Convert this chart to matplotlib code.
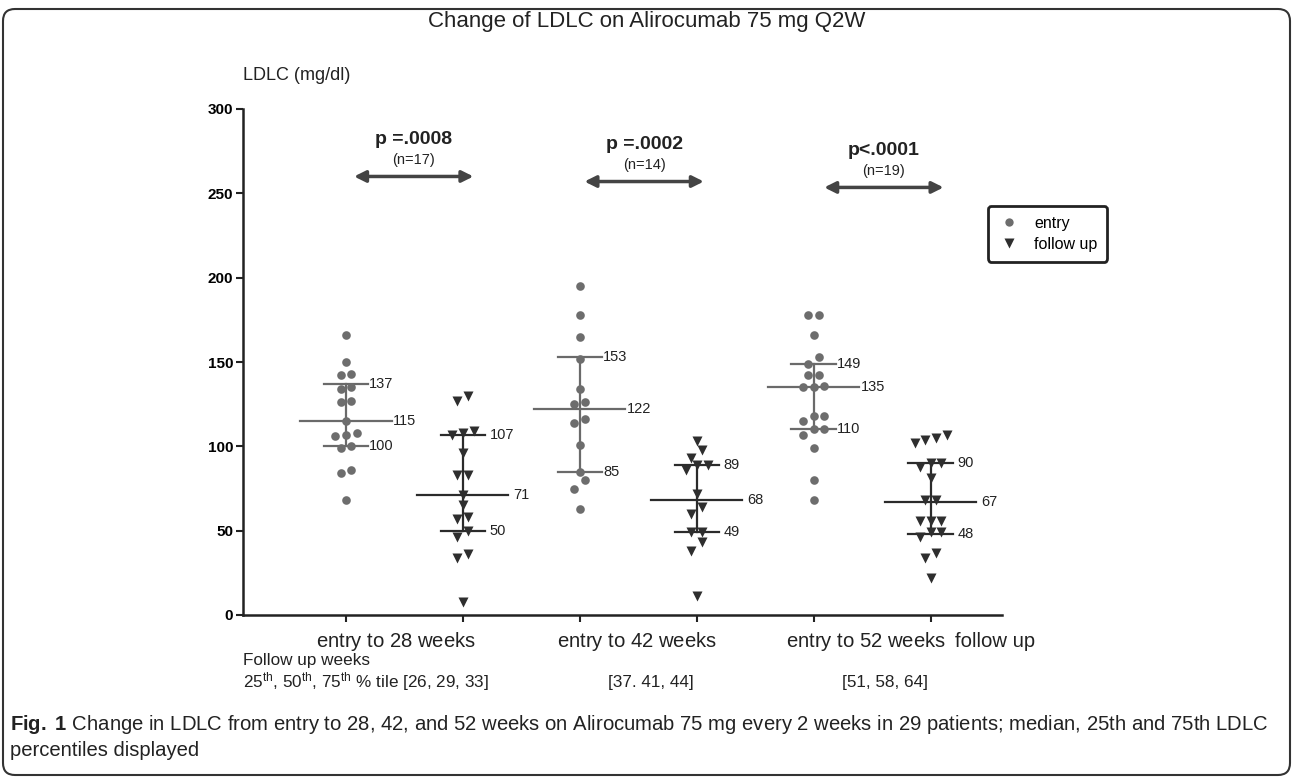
import numpy as np
import matplotlib
matplotlib.use("Agg")
import matplotlib.pyplot as plt
from matplotlib import font_manager as fm
from matplotlib.patches import FancyBboxPatch
from matplotlib.lines import Line2D

# LDLC values (mg/dl)
entry_28 = [166, 150, 142, 143, 135, 134, 126, 127, 115, 107, 108, 106, 99, 100, 86, 84, 68]
follow_28 = [130, 127, 108, 109, 107, 96, 83, 83, 71, 65, 58, 57, 50, 46, 36, 34, 8]
entry_42 = [195, 178, 165, 152, 134, 126, 125, 116, 114, 101, 85, 80, 75, 63]
follow_42 = [103, 98, 93, 89, 89, 86, 72, 64, 60, 49, 49, 43, 38, 11]
entry_52 = [178, 178, 166, 153, 149, 142, 142, 136, 135, 135, 118, 118, 115, 110, 110, 107, 99, 80, 68]
follow_52 = [107, 104, 102, 105, 90, 90, 88, 81, 68, 68, 56, 56, 56, 49, 49, 46, 37, 34, 22]

# 25th, median, 75th as labelled
q1 = [100, 50, 85, 49, 110, 48]
med = [115, 71, 122, 68, 135, 67]
q3 = [137, 107, 153, 89, 149, 90]

group_labels = ["entry to $\\it{28}$ weeks", "entry to $\\it{42}$ weeks", "entry to $\\it{52}$ weeks"]
p_labels = ["p =.0008", "p =.0002", "p<.0001"]
n_labels = ["(n=17)", "(n=14)", "(n=19)"]
week_pct = ["[26, 29, 33]", "[37. 41, 44]", "[51, 58, 64]"]

names = {f.name for f in fm.fontManager.ttflist}
narrow = "Liberation Sans Narrow" if "Liberation Sans Narrow" in names else "Liberation Sans"
plt.rcParams["font.family"] = ["Liberation Sans", "DejaVu Sans"]
plt.rcParams["mathtext.fontset"] = "custom"
plt.rcParams["mathtext.rm"] = narrow
plt.rcParams["mathtext.it"] = narrow + ":italic"
plt.rcParams["mathtext.bf"] = narrow + ":bold"

W, H = 1293, 782
fig = plt.figure(figsize=(W / 100, H / 100), dpi=100)
ax = fig.add_axes([243 / W, 1 - 615 / H, (1002 - 243) / W, (615 - 109) / H])


def swarm(vals, tol=5, step=0.092):
    vals = np.asarray(vals, float)
    offs = np.zeros(len(vals))
    rows = []
    for i in np.argsort(vals, kind="stable"):
        if rows and vals[i] - vals[rows[-1][0]] <= tol:
            rows[-1].append(i)
        else:
            rows.append([i])
    for r in rows:
        for k, i in enumerate(r):
            offs[i] = (k - (len(r) - 1) / 2) * step
    return offs


series = [entry_28, follow_28, entry_42, follow_42, entry_52, follow_52]
positions = np.arange(1, 7)
for i, vals in enumerate(series):
    x = positions[i] + swarm(vals)
    if i % 2 == 0:
        ax.plot(x, vals, "o", ms=6.2, color="#6d6d6d", mec="none", zorder=3)
        lc = "#6a6a6a"
    else:
        ax.plot(x, vals, "v", ms=6.5, color="#2e2e2e", mec="none", zorder=3)
        lc = "#2b2b2b"
    p = positions[i]
    ax.plot([p - 0.39, p + 0.39], [med[i], med[i]], color=lc, lw=1.6, zorder=2)
    ax.plot([p - 0.19, p + 0.19], [q1[i], q1[i]], color=lc, lw=1.6, zorder=2)
    ax.plot([p - 0.19, p + 0.19], [q3[i], q3[i]], color=lc, lw=1.6, zorder=2)
    ax.plot([p, p], [q1[i], q3[i]], color=lc, lw=1.6, zorder=2)
    gap = 0.01 if i % 2 == 0 else 0.04
    ax.text(p + 0.39 + gap, med[i], str(med[i]), va="center", ha="left", fontsize=10.5, color="#222")
    ax.text(p + 0.19 + gap, q1[i], str(q1[i]), va="center", ha="left", fontsize=10.5, color="#222")
    ax.text(p + 0.19 + gap, q3[i], str(q3[i]), va="center", ha="left", fontsize=10.5, color="#222")

# p-value arrows
arrow_y = [260, 257, 253.5]
arrow_shift = [0.07, 0.04, 0.09]
for g in range(3):
    a = positions[2 * g] + arrow_shift[g]
    b = positions[2 * g + 1] + arrow_shift[g] + 0.02
    ax.annotate("", xy=(b, arrow_y[g]), xytext=(a, arrow_y[g]),
                arrowprops=dict(arrowstyle="<|-|>", color="#444444", lw=2.5,
                                mutation_scale=17, shrinkA=0, shrinkB=0))
    cx = (a + b) / 2
    ax.text(cx, arrow_y[g] + 22, p_labels[g], ha="center", va="center", fontsize=14, fontweight="bold", color="#222")
    ax.text(cx, arrow_y[g] + 10, n_labels[g], ha="center", va="center", fontsize=10.5, color="#222")

ax.set_xlim(0.12, 6.61)
ax.set_ylim(0, 300)
ax.set_yticks(range(0, 301, 50))
ax.set_yticklabels([str(v) for v in range(0, 301, 50)], fontweight="bold", fontsize=11)
ax.set_xticks(positions)
ax.set_xticklabels([])
ax.tick_params(axis="both", length=5, width=1.5, color="#222", direction="out")
ax.tick_params(axis="y", pad=2)
for s in ["top", "right"]:
    ax.spines[s].set_visible(False)
for s in ["left", "bottom"]:
    ax.spines[s].set_linewidth(1.8)
    ax.spines[s].set_color("#222")

# group labels under the axis
tr = ax.get_xaxis_transform()
group_x = [1.43, 3.49, 5.45]
for g in range(3):
    ax.text(group_x[g], -0.053, group_labels[g], transform=tr, ha="center", va="center", fontsize=14.6, color="#222")
ax.text(6.55, -0.053, "follow up", transform=tr, ha="center", va="center", fontsize=14.6, color="#222")

fig.text(243 / W, 1 - 661 / H, "Follow up weeks", fontsize=12.3, family=narrow, va="center", color="#222")
fig.text(243 / W, 1 - 682 / H, "25$^{\\mathrm{th}}$, 50$^{\\mathrm{th}}$, 75$^{\\mathrm{th}}$ % tile " + week_pct[0],
         fontsize=12.3, family=narrow, va="center", color="#222")
fig.text(651 / W, 1 - 682 / H, week_pct[1], fontsize=12.3, family=narrow, va="center", ha="center", color="#222")
fig.text(885 / W, 1 - 682 / H, week_pct[2], fontsize=12.3, family=narrow, va="center", ha="center", color="#222")

fig.text(0.5, 1 - 22 / H, "Change of LDLC on Alirocumab 75 mg Q2W", ha="center", va="center", fontsize=16, color="#222")
fig.text(243 / W, 1 - 76 / H, "LDLC (mg/dl)", ha="left", va="center", fontsize=13, color="#222")

handles = [Line2D([], [], marker="o", ls="none", ms=6, color="#6d6d6d", mec="none", label="entry"),
           Line2D([], [], marker="v", ls="none", ms=6.5, color="#2e2e2e", mec="none", label="follow up")]
leg = fig.legend(handles=handles, loc="upper left", bbox_to_anchor=(988 / W, 1 - 206 / H),
                 fontsize=11.5, frameon=True, fancybox=True, handlelength=1.4, handletextpad=0.9,
                 borderpad=0.6, labelspacing=0.4, borderaxespad=0)
leg.get_frame().set_edgecolor("#222")
leg.get_frame().set_linewidth(2)
leg.get_frame().set_alpha(1)

caption = ("$\\bf{Fig.\\ 1}$ Change in LDLC from entry to 28, 42, and 52 weeks on Alirocumab 75 mg every 2 weeks "
           "in 29 patients; median, 25th and 75th LDLC")
fig.text(10 / W, 1 - 725 / H, caption, fontsize=14.6, family=narrow, va="center", color="#222")
fig.text(10 / W, 1 - 750 / H, "percentiles displayed", fontsize=14.6, family=narrow, va="center", color="#222")

fig.patches.append(FancyBboxPatch((0.03, 0.07), 12.87, 7.66, boxstyle="round,pad=0,rounding_size=0.12",
                                  transform=fig.dpi_scale_trans, fill=False, ec="#333", lw=1.5))

fig.savefig("out.png", dpi=100)
